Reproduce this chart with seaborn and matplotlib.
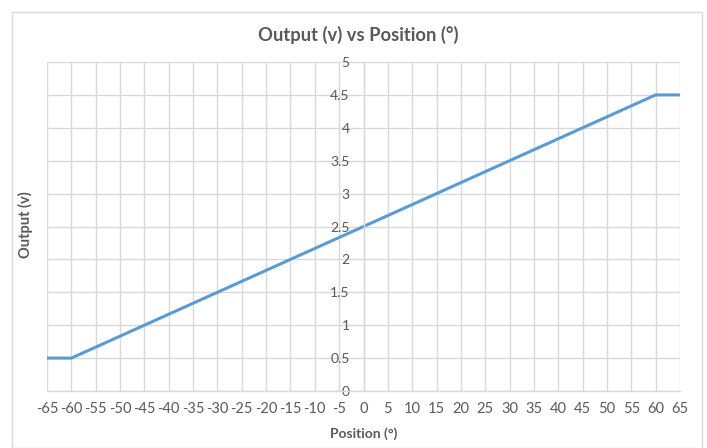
import numpy as np
import pandas as pd
import matplotlib
matplotlib.use("Agg")
import matplotlib.pyplot as plt
import seaborn as sns
from matplotlib.patches import Rectangle


# Chart data
position_deg = [-65, -60, 0, 60, 65]
output_v = [0.5, 0.5, 2.5, 4.5, 4.5]
x_ticks = list(range(-65, 70, 5))
y_ticks = [0, 0.5, 1, 1.5, 2, 2.5, 3, 3.5, 4, 4.5, 5]

LINE_COLOR = '#5b9bd5'
GRID_COLOR = '#d9d9d9'
TEXT_COLOR = '#595959'

sns.set_style('white')
plt.rcParams['font.family'] = ['Lato', 'DejaVu Sans']

df = pd.DataFrame({'position': position_deg, 'output': output_v})

fig = plt.figure(figsize=(7.07, 4.48), dpi=100)
ax = fig.add_axes([47 / 707, 1 - 391 / 448, (680 - 47) / 707, (391 - 62) / 448])

sns.lineplot(data=df, x='position', y='output', color=LINE_COLOR, linewidth=2.2, ax=ax)

ax.set_xlim(-65, 65)
ax.set_ylim(0, 5)
ax.set_xticks(x_ticks)
ax.set_xticklabels([str(v) for v in x_ticks])  # plain hyphen, like Excel
ax.set_yticks(y_ticks)
ax.set_yticklabels([f'{v:g}' for v in y_ticks])

# Excel-style grid
ax.grid(True, color=GRID_COLOR, linewidth=1.0)
ax.set_axisbelow(True)

# vertical axis crosses at x = 0
for side in ['top', 'right']:
    ax.spines[side].set_visible(False)
ax.spines['left'].set_position(('data', 0))
ax.spines['left'].set_color(GRID_COLOR)
ax.spines['bottom'].set_color(GRID_COLOR)
ax.spines['left'].set_linewidth(1.0)
ax.spines['bottom'].set_linewidth(1.0)

ax.tick_params(axis='y', length=5, color=GRID_COLOR, labelcolor=TEXT_COLOR,
               labelsize=10, pad=5)
ax.tick_params(axis='x', length=0, labelcolor=TEXT_COLOR, labelsize=10.5, pad=8)

ax.set_xlabel('Position (°)', fontsize=10, fontweight='bold', color=TEXT_COLOR, labelpad=8)
ax.set_ylabel('')
fig.text(25 / 707, 1 - 225 / 448, 'Output (v)', rotation=90, ha='center', va='center',
         fontsize=10.5, fontweight='bold', color=TEXT_COLOR)

fig.text(358 / 707, 1 - 35 / 448, 'Output (v) vs Position (°)', ha='center', va='center',
         fontsize=13.2, fontweight='bold', color=TEXT_COLOR)

# chart frame
fig.patches.append(Rectangle((12 / 707, 0), (702 - 12) / 707, 1 - 12 / 448,
                             transform=fig.transFigure, fill=False,
                             edgecolor='#d9d9d9', linewidth=1.0))

fig.savefig('out.png', dpi=100, facecolor='white')
